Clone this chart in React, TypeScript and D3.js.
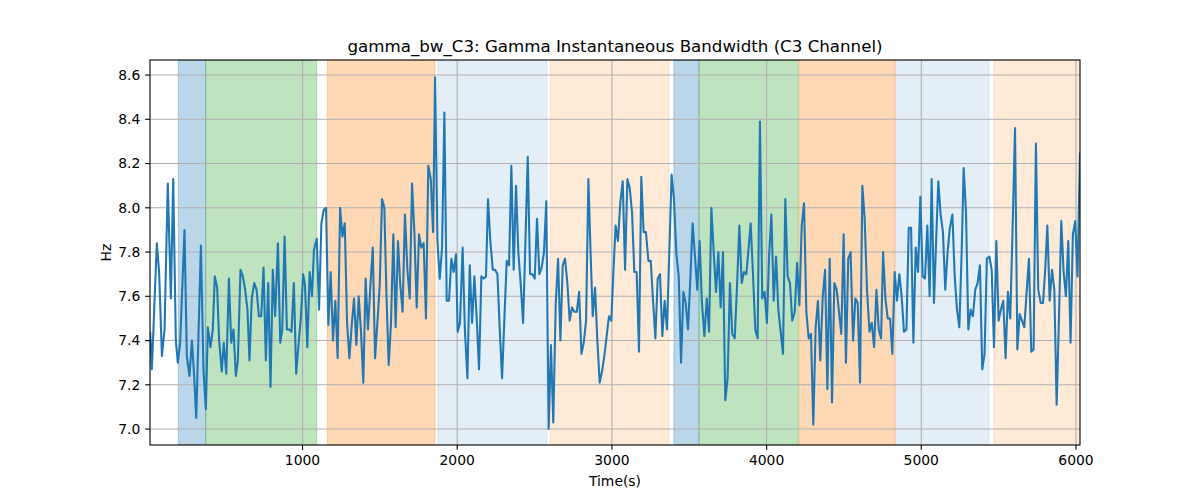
import React from "react";
import * as d3 from "d3";

const times: number[] = [
  15, 26, 58, 73, 91, 108, 129, 149, 164, 181, 194, 209, 237, 252, 269, 285, 297, 313, 343, 360, 375, 388, 405, 420, 433, 448, 461, 478, 491, 507, 524, 539, 554, 569, 582, 599, 614, 629, 644, 657, 672, 688, 703, 718, 733, 748, 763, 778, 793, 808, 823, 841, 856, 869, 884, 899, 914, 929, 944, 959, 974, 989,
  1004, 1016, 1031, 1046, 1061, 1074, 1092, 1107, 1122, 1137, 1152, 1167, 1182, 1197, 1212, 1227, 1243, 1258, 1273, 1288, 1303, 1318, 1333, 1348, 1363, 1378, 1393, 1408, 1423, 1439, 1454, 1469, 1484, 1499, 1514, 1529, 1542, 1557, 1572, 1587, 1602, 1617, 1632, 1647, 1662, 1678, 1693, 1708, 1723, 1738, 1753, 1768, 1783, 1798, 1813, 1829, 1844, 1857, 1872, 1887, 1902, 1917, 1932, 1947, 1962, 1977, 1992,
  2003, 2018, 2035, 2050, 2066, 2081, 2096, 2111, 2126, 2141, 2156, 2171, 2186, 2199, 2214, 2230, 2245, 2260, 2275, 2290, 2305, 2320, 2335, 2350, 2365, 2380, 2395, 2411, 2426, 2441, 2456, 2471, 2486, 2501, 2516, 2531, 2546, 2561, 2576, 2591, 2606, 2621, 2637, 2652, 2667, 2682, 2697, 2712, 2727, 2742, 2757, 2773, 2788, 2803, 2818, 2833, 2848, 2862, 2876, 2891, 2906, 2921, 2936, 2951, 2966, 2981, 2996,
  3009, 3024, 3039, 3055, 3070, 3085, 3100, 3115, 3130, 3145, 3160, 3175, 3190, 3205, 3220, 3236, 3251, 3266, 3281, 3296, 3311, 3326, 3341, 3356, 3371, 3386, 3401, 3417, 3432, 3447, 3462, 3477, 3492, 3507, 3522, 3537, 3552, 3567, 3582, 3598, 3613, 3628, 3643, 3658, 3673, 3688, 3703, 3718, 3733, 3748, 3763, 3778, 3794, 3809, 3824, 3839, 3854, 3869, 3884, 3897, 3912, 3927, 3942, 3957, 3972, 3987, 4002,
  4016, 4031, 4046, 4061, 4076, 4091, 4106, 4121, 4136, 4151, 4166, 4182, 4197, 4212, 4227, 4242, 4257, 4272, 4287, 4302, 4317, 4332, 4347, 4363, 4378, 4393, 4408, 4423, 4438, 4453, 4468, 4483, 4498, 4513, 4528, 4543, 4559, 4574, 4589, 4604, 4619, 4634, 4649, 4665, 4680, 4695, 4710, 4725, 4740, 4753, 4768, 4783, 4798, 4813, 4828, 4843, 4858, 4873, 4888, 4904, 4919, 4934, 4949, 4964, 4979, 4994, 5009, 5024, 5039, 5054,
  5067, 5082, 5096, 5110, 5125, 5140, 5155, 5170, 5185, 5201, 5216, 5231, 5246, 5261, 5274, 5289, 5304, 5319, 5334, 5349, 5364, 5379, 5394, 5409, 5424, 5440, 5455, 5470, 5485, 5500, 5515, 5530, 5545, 5560, 5575, 5590, 5606, 5621, 5636, 5651, 5666, 5681, 5696, 5711, 5726, 5741, 5756, 5772, 5787, 5801, 5815, 5830, 5845, 5860, 5875, 5890, 5905, 5920, 5935, 5950, 5965, 5980, 5995, 6010, 6026,
];

const values: number[] = [
  7.44, 7.27, 7.84, 7.71, 7.33, 7.45, 8.11, 7.59, 8.13, 7.40, 7.30, 7.39, 7.90, 7.33, 7.24, 7.40, 7.27, 7.05, 7.83, 7.26, 7.09, 7.46, 7.37, 7.45, 7.69, 7.64, 7.40, 7.26, 7.39, 7.25, 7.68, 7.39, 7.45, 7.24, 7.31, 7.72, 7.69, 7.63, 7.54, 7.31, 7.59, 7.66, 7.63, 7.51, 7.51, 7.73, 7.31, 7.66, 7.19, 7.72, 7.51, 7.84, 7.39, 7.45, 7.87, 7.45, 7.45, 7.44, 7.66, 7.25, 7.38, 7.50,
  7.70, 7.65, 7.37, 7.71, 7.60, 7.81, 7.86, 7.54, 7.93, 7.99, 8.00, 7.47, 7.71, 7.40, 7.58, 7.32, 8.00, 7.87, 7.93, 7.48, 7.32, 7.47, 7.59, 7.38, 7.60, 7.44, 7.21, 7.68, 7.45, 7.65, 7.82, 7.32, 7.48, 7.65, 8.04, 8.00, 7.62, 7.29, 7.48, 7.88, 7.46, 7.85, 7.65, 7.53, 7.97, 7.72, 7.59, 8.11, 7.89, 7.55, 7.88, 7.82, 7.84, 7.50, 8.19, 8.13, 7.89, 8.59, 7.85, 7.68, 7.82, 8.43, 7.58, 7.58, 7.77, 7.71, 7.79,
  7.44, 7.48, 7.82, 7.44, 7.23, 7.74, 7.48, 7.69, 7.50, 7.27, 7.69, 7.68, 7.69, 8.04, 7.85, 7.72, 7.72, 7.70, 7.45, 7.23, 7.50, 7.76, 7.74, 8.19, 7.72, 8.10, 7.80, 7.65, 7.48, 7.85, 8.23, 7.70, 7.70, 7.68, 7.95, 7.70, 7.73, 7.80, 8.03, 7.00, 7.38, 7.03, 7.57, 7.77, 7.40, 7.74, 7.77, 7.66, 7.49, 7.55, 7.53, 7.53, 7.62, 7.34, 7.39, 7.49, 8.13, 7.80, 7.51, 7.64, 7.40, 7.21, 7.26, 7.33, 7.42, 7.51, 7.49,
  7.70, 7.92, 7.85, 8.03, 8.12, 7.72, 8.13, 8.09, 7.98, 7.71, 7.71, 7.35, 8.14, 7.89, 7.89, 7.76, 7.76, 7.58, 7.41, 7.68, 7.70, 7.42, 7.58, 7.45, 7.80, 8.15, 8.04, 7.79, 7.69, 7.30, 7.62, 7.57, 7.45, 7.68, 7.93, 7.78, 7.63, 7.85, 7.57, 7.42, 7.59, 7.44, 8.00, 7.80, 7.62, 7.80, 7.55, 7.80, 7.13, 7.23, 7.66, 7.43, 7.41, 7.65, 7.92, 7.66, 7.71, 7.70, 7.82, 7.93, 7.70, 7.45, 7.41, 8.39, 7.59, 7.62, 7.48,
  7.78, 7.97, 7.58, 7.78, 7.54, 7.44, 7.34, 8.04, 7.69, 7.66, 7.49, 7.53, 7.75, 7.56, 7.92, 8.02, 7.53, 7.41, 7.43, 7.02, 7.46, 7.58, 7.31, 7.60, 7.72, 7.18, 7.77, 7.12, 7.66, 7.63, 7.53, 7.43, 7.88, 7.30, 7.77, 7.80, 7.40, 7.59, 7.57, 7.21, 8.10, 7.95, 7.63, 7.44, 7.48, 7.37, 7.63, 7.45, 7.41, 7.80, 7.59, 7.50, 7.50, 7.34, 7.71, 7.58, 7.70, 7.60, 7.44, 7.45, 7.91, 7.91, 7.39, 7.82, 7.71, 8.05, 7.69, 7.68, 7.92, 7.60,
  8.13, 7.57, 7.85, 8.12, 7.97, 7.89, 7.63, 7.80, 7.91, 7.97, 7.69, 7.54, 7.46, 7.80, 8.18, 7.98, 7.45, 7.54, 7.51, 7.63, 7.66, 7.74, 7.27, 7.34, 7.77, 7.78, 7.72, 7.37, 7.85, 7.49, 7.54, 7.58, 7.32, 7.62, 7.50, 7.90, 8.36, 7.36, 7.52, 7.49, 7.46, 7.62, 7.77, 7.35, 7.36, 8.29, 7.63, 7.57, 7.57, 7.72, 7.92, 7.58, 7.72, 7.63, 7.11, 7.50, 7.94, 7.71, 7.60, 7.85, 7.39, 7.88, 7.94, 7.69, 8.25,
];

const spanStarts: number[] = [197, 374, 1160, 1874, 2600, 3401, 3563, 4210, 4834, 5470];
const spanEnds: number[] = [374, 1092, 1857, 2580, 3369, 3563, 4205, 4830, 5438, 6040];
const spanColors: string[] = ["#1f77b4", "#2ca02c", "#ff7f0e", "#1f77b4", "#ff7f0e", "#1f77b4", "#2ca02c", "#ff7f0e", "#1f77b4", "#ff7f0e"];
const spanAlphas: number[] = [0.3, 0.3, 0.3, 0.12, 0.16, 0.3, 0.3, 0.3, 0.12, 0.16];

const xTicks: number[] = [1000, 2000, 3000, 4000, 5000, 6000];
const yTicks: number[] = [7.0, 7.2, 7.4, 7.6, 7.8, 8.0, 8.2, 8.4, 8.6];

const xDomain: [number, number] = [14, 6026];
const yDomain: [number, number] = [6.928, 8.668];

const titleText = "gamma_bw_C3: Gamma Instantaneous Bandwidth (C3 Channel)";

export default function App() {
  const W = 1200, H = 500;
  const L = 150, R = 1080, T = 60, B = 445;
  const x = d3.scaleLinear().domain(xDomain).range([L, R]);
  const y = d3.scaleLinear().domain(yDomain).range([B, T]);
  const pts: [number, number][] = times.map((t, i) => [t, values[i]]);
  const line = d3.line<[number, number]>().x((d) => x(d[0])).y((d) => y(d[1]));
  const font = "DejaVu Sans, sans-serif";
  const tickLen = 4.86;
  const thin = 1.1;

  return (
    <div style={{ position: "absolute", left: 0, top: 0 }}>
      <svg width={W} height={H} viewBox={`0 0 ${W} ${H}`} style={{ display: "block", background: "#fff" }}>
        <defs>
          <clipPath id="plotClip">
            <rect x={L} y={T} width={R - L} height={B - T} />
          </clipPath>
        </defs>
        <rect x={0} y={0} width={W} height={H} fill="#fff" />
        <g clipPath="url(#plotClip)">
          {spanStarts.map((s, i) => (
            <rect
              key={"sp" + i}
              x={x(s)}
              y={T}
              width={x(spanEnds[i]) - x(s)}
              height={B - T}
              fill={spanColors[i]}
              fillOpacity={spanAlphas[i]}
              stroke={spanColors[i]}
              strokeOpacity={spanAlphas[i]}
              strokeWidth={1}
            />
          ))}
          {xTicks.map((t) => (
            <line key={"gx" + t} x1={x(t)} x2={x(t)} y1={T} y2={B} stroke="#b0b0b0" strokeWidth={thin} />
          ))}
          {yTicks.map((t) => (
            <line key={"gy" + t} x1={L} x2={R} y1={y(t)} y2={y(t)} stroke="#b0b0b0" strokeWidth={thin} />
          ))}
          <path d={line(pts) || ""} fill="none" stroke="#1f77b4" strokeWidth={2.08} strokeLinejoin="round" />
        </g>
        <rect x={L} y={T} width={R - L} height={B - T} fill="none" stroke="#000" strokeWidth={thin} />
        {xTicks.map((t) => (
          <g key={"tx" + t}>
            <line x1={x(t)} x2={x(t)} y1={B} y2={B + tickLen} stroke="#000" strokeWidth={thin} />
            <text x={x(t)} y={B + 20} textAnchor="middle" fontFamily={font} fontSize={13.9} fill="#000">
              {String(t)}
            </text>
          </g>
        ))}
        {yTicks.map((t) => (
          <g key={"ty" + t}>
            <line x1={L - tickLen} x2={L} y1={y(t)} y2={y(t)} stroke="#000" strokeWidth={thin} />
            <text x={L - 2 * tickLen} y={y(t)} dy="0.35em" textAnchor="end" fontFamily={font} fontSize={13.9} fill="#000">
              {t.toFixed(1)}
            </text>
          </g>
        ))}
        <text x={(L + R) / 2} y={486} textAnchor="middle" fontFamily={font} fontSize={13.9} fill="#000">
          Time(s)
        </text>
        <text
          x={0}
          y={0}
          transform={`translate(111, ${(T + B) / 2}) rotate(-90)`}
          textAnchor="middle"
          fontFamily={font}
          fontSize={13.9}
          fill="#000"
        >
          Hz
        </text>
        <text x={(L + R) / 2} y={51.5} textAnchor="middle" fontFamily={font} fontSize={16.67} fill="#000">
          {titleText}
        </text>
      </svg>
    </div>
  );
}
